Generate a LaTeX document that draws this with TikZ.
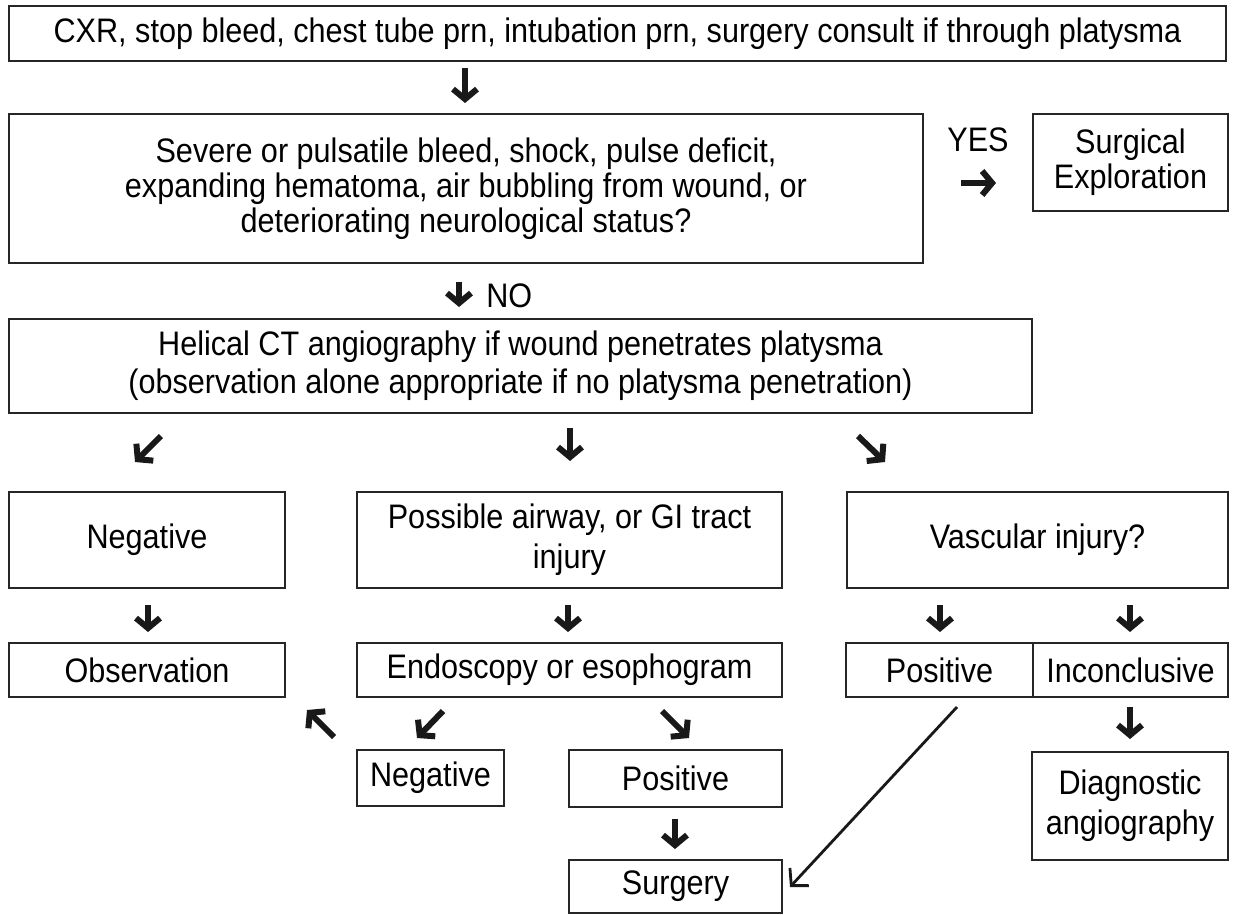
\documentclass[tikz,border=0pt]{standalone}
\usepackage{fontspec}
\setmainfont{Liberation Sans}[FakeStretch=0.9]
\usetikzlibrary{arrows.meta}
\begin{document}
\begin{tikzpicture}[x=0.5pt,y=-0.5pt,
  box/.style={draw=black!85, line width=1.3pt, inner sep=0pt, align=center,
    font=\fontsize{17pt}{17.5pt}\selectfont},
  lbl/.style={inner sep=0pt, font=\fontsize{17pt}{17.5pt}\selectfont},
  garrow/.style={line width=3pt, black!90, line cap=butt,
    -{Straight Barb[length=5pt,width=12pt,line width=3pt]}},
  thinarrow/.style={line width=1.4pt, black!90,
    -{Straight Barb[length=6pt,width=13pt,line width=1.4pt]}}]
\useasboundingbox (0,0) rectangle (1233,915);

% boxes
\node[box, minimum width=608.5pt, minimum height=27.5pt] (b1) at (617.5,33.5)
  {CXR, stop bleed, chest tube prn, intubation prn, surgery consult if through platysma};
\node[box, minimum width=457pt, minimum height=74.5pt] (b2) at (466,188.5)
  {Severe or pulsatile bleed, shock, pulse deficit,\\expanding hematoma, air bubbling from wound, or\\deteriorating neurological status?};
\node[box, minimum width=97.5pt, minimum height=48.5pt] (surg) at (1130.5,162.5)
  {Surgical\\Exploration};
\node[box, minimum width=511.5pt, minimum height=47pt, font=\fontsize{17pt}{19pt}\selectfont] (b3) at (520.5,366)
  {Helical CT angiography if wound penetrates platysma\\(observation alone appropriate if no platysma penetration)};
\node[box, minimum width=138pt, minimum height=48pt] (neg1) at (147,540) {Negative};
\node[box, minimum width=212.5pt, minimum height=48pt, font=\fontsize{17pt}{20pt}\selectfont] (air) at (569.5,540)
  {Possible airway, or GI tract\\injury};
\node[box, minimum width=190.5pt, minimum height=48pt] (vasc) at (1037.5,540) {Vascular injury?};
\node[box, minimum width=138pt, minimum height=27pt] (obs) at (147,670) {Observation};
\node[box, minimum width=212.5pt, minimum height=27pt] (endo) at (569.5,670) {Endoscopy or esophogram};
\node[box, minimum width=93.5pt, minimum height=27pt] (posv) at (939.5,670) {Positive};
\node[box, minimum width=97.5pt, minimum height=27pt] (inc) at (1130.5,670) {Inconclusive};
\node[box, minimum width=73.5pt, minimum height=28pt] (neg2) at (430.5,778) {Negative};
\node[box, minimum width=106.5pt, minimum height=28.5pt] (pos2) at (675.5,778.5) {Positive};
\node[box, minimum width=98pt, minimum height=54pt, font=\fontsize{17pt}{20pt}\selectfont] (diag) at (1130,806) {Diagnostic\\angiography};
\node[box, minimum width=106.5pt, minimum height=26.5pt] (surgery) at (675.5,886.5) {Surgery};

% labels
\node[lbl, anchor=base] (yes) at (978,152) {YES};
\node[lbl, anchor=base west] (no) at (486,307) {NO};

% arrow end points
\coordinate (a1s) at (465,68);   \coordinate (a1e) at (465,103);
\coordinate (ays) at (961,183);  \coordinate (aye) at (996,183);
\coordinate (ans) at (459,282);  \coordinate (ane) at (459,307);
\coordinate (r3as) at (161,436); \coordinate (r3ae) at (135,462);
\coordinate (r3bs) at (570,428); \coordinate (r3be) at (570,461);
\coordinate (r3cs) at (858,436); \coordinate (r3ce) at (885,462);
\coordinate (r4as) at (148,605); \coordinate (r4ae) at (148,632);
\coordinate (r4bs) at (568,605); \coordinate (r4be) at (568,632);
\coordinate (r4cs) at (940,605); \coordinate (r4ce) at (940,632);
\coordinate (r4ds) at (1130,605);\coordinate (r4de) at (1130,632);
\coordinate (r5as) at (334,737); \coordinate (r5ae) at (307,710);
\coordinate (r5bs) at (443,711); \coordinate (r5be) at (417,738);
\coordinate (r5cs) at (662,711); \coordinate (r5ce) at (689,738);
\coordinate (r5ds) at (1130,707);\coordinate (r5de) at (1130,739);
\coordinate (r6s) at (675,819);  \coordinate (r6e) at (675,849);
\coordinate (dgs) at (957,707);  \coordinate (dge) at (790,887);

\foreach \s/\e in {a1s/a1e, ays/aye, ans/ane, r3as/r3ae, r3bs/r3be, r3cs/r3ce,
  r4as/r4ae, r4bs/r4be, r4cs/r4ce, r4ds/r4de, r5as/r5ae, r5bs/r5be, r5cs/r5ce,
  r5ds/r5de, r6s/r6e}
  \draw[garrow] (\s) -- (\e);

\draw[thinarrow] (dgs) -- (dge);
\end{tikzpicture}
\end{document}
